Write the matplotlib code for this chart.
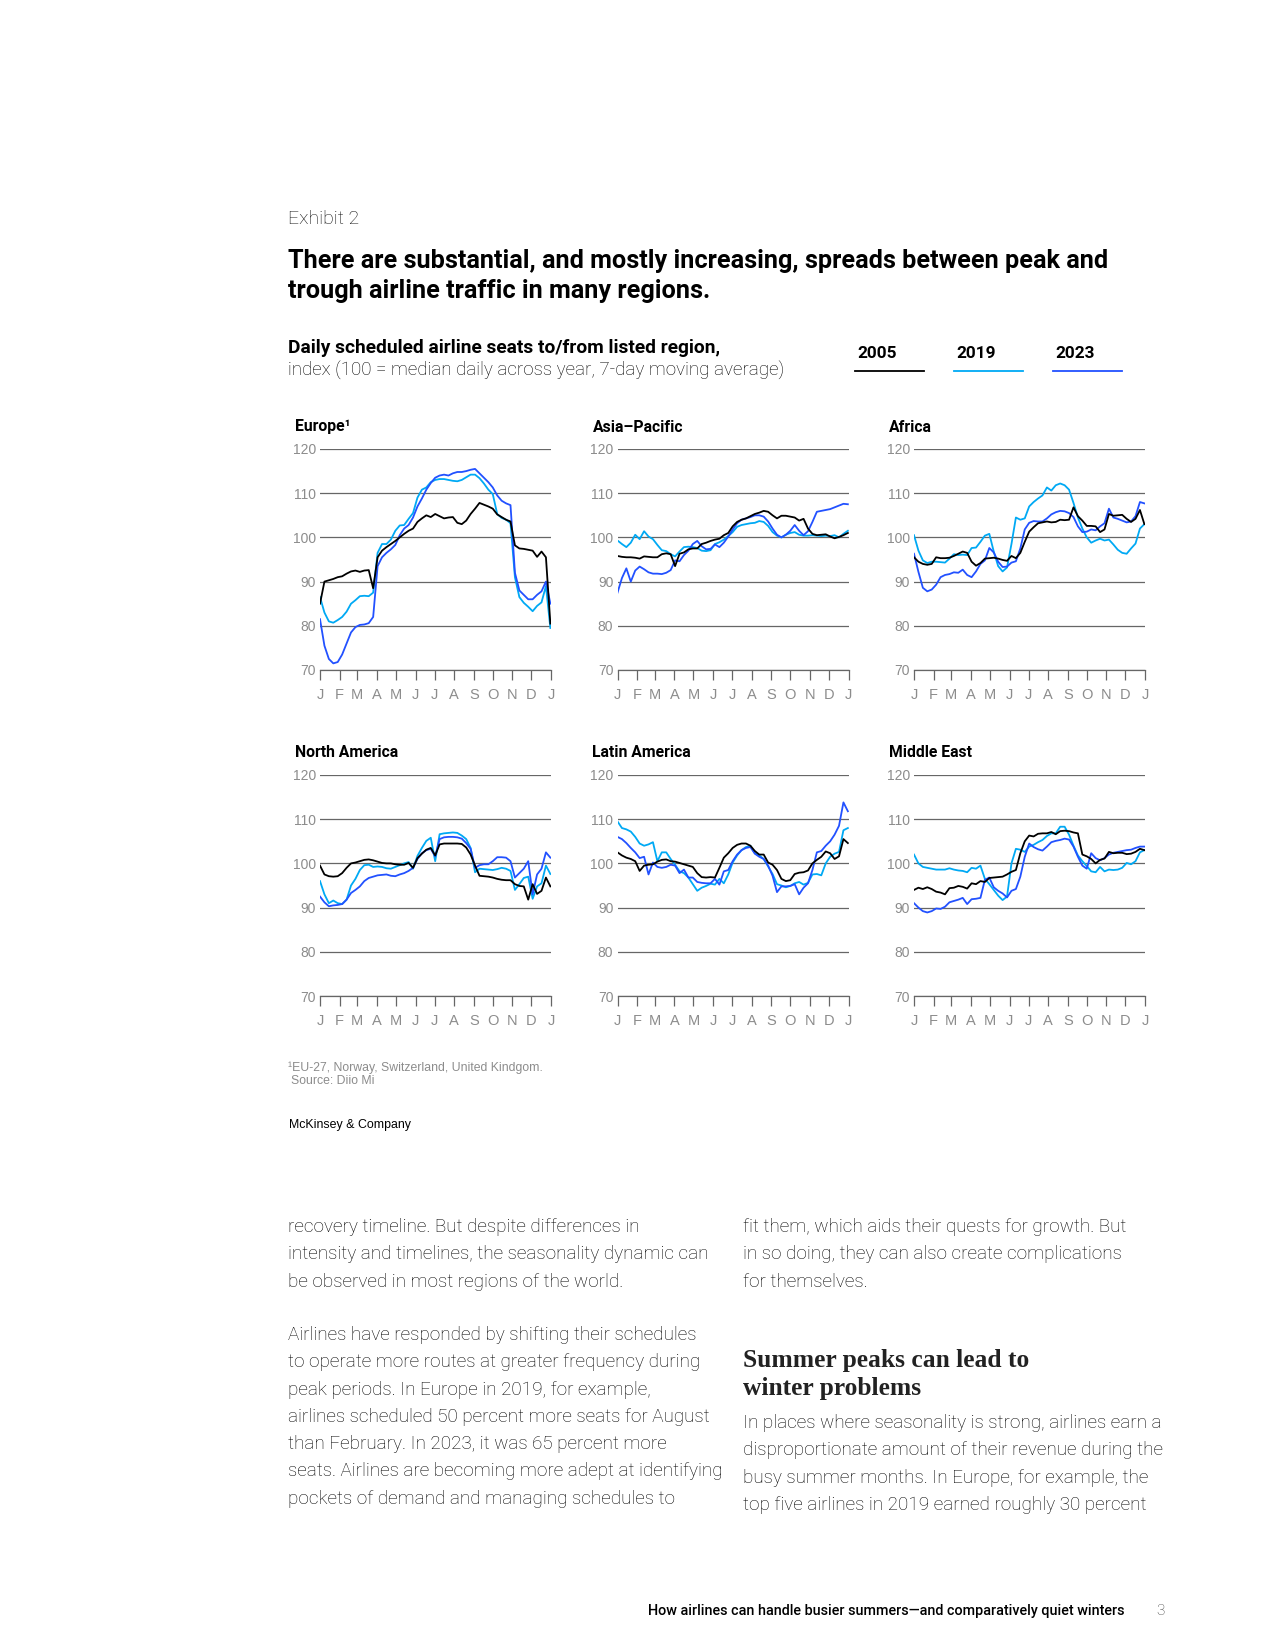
import numpy as np
import matplotlib
matplotlib.use("Agg")
import matplotlib.pyplot as plt
from matplotlib.lines import Line2D

days = np.arange(0, 365, 7)
month_starts = [0, 31, 59, 90, 120, 151, 181, 212, 243, 273, 304, 334, 365]
month_labels = ["J", "F", "M", "A", "M", "J", "J", "A", "S", "O", "N", "D", "J"]
y_ticks = [70, 80, 90, 100, 110, 120]
years = ["2005", "2019", "2023"]
year_colors = ["#000000", "#00a9f4", "#2251ff"]

europe_2005 = [85, 90, 90.3, 90.6, 91, 91.2, 91.8, 92.3, 92.5, 92.2, 92.5, 92.6, 88.5,
               95.5, 97, 97.8, 98.5, 99.2, 100, 100.8, 101.5, 102, 103.5, 104.3, 105, 104.6,
               105.3, 104.8, 104.3, 104.5, 104.6, 103.3, 103, 103.8, 105.3, 106.5, 107.8, 107.4,
               107, 106.5, 105.2, 104.6, 104, 103.6, 98.2, 97.5, 97.4, 97.2, 97, 95.6, 96.8, 95.5, 80.5]
europe_2019 = [86.5, 83, 81, 80.7, 81.3, 82, 83.2, 85, 85.8, 86.7, 86.8, 86.7, 87.5,
               96.5, 98.5, 98.5, 99.5, 101.5, 102.7, 102.8, 104.2, 105.5, 109, 110.8, 111.3, 112.5,
               113, 113.2, 113.2, 113, 112.8, 112.7, 113, 113.6, 114.2, 114.2, 113.4, 112.2,
               110.8, 109.8, 105.3, 104.4, 104, 103.2, 91, 86.5, 85.2, 84.3, 83.3, 84.5, 85.3, 89, 79.5]
europe_2023 = [81.5, 75.5, 72.5, 71.5, 71.8, 73.5, 76, 78.5, 79.7, 80.2, 80.3, 80.6, 82,
               93.5, 95.5, 96.5, 97.3, 98.3, 100.5, 102, 102.8, 104.5, 107, 108.8, 110.8, 112.3,
               113.5, 114, 114.2, 114, 114.5, 114.8, 114.8, 115, 115.3, 115.5, 114.5, 113.5,
               112.5, 111.3, 109.5, 108.3, 107.7, 107.3, 92, 88, 87, 86, 86, 87, 87.8, 90, 85]

asia_2005 = [95.8, 95.6, 95.5, 95.5, 95.4, 95.2, 95.7, 95.6, 95.5, 95.5, 96.2, 96.4, 96.2,
             93.5, 96.3, 96.6, 97.3, 97.5, 97.5, 98.5, 98.8, 99.2, 99.5, 99.7, 100.5, 101,
             102.5, 103.5, 104, 104.3, 104.8, 105.3, 105.6, 106, 105.8, 105, 104.3, 104.9,
             104.9, 104.7, 104.5, 103.8, 104.2, 102, 100.8, 100.5, 100.6, 100.7, 100.2, 99.8, 100.1, 100.5, 101]
asia_2019 = [99.3, 98.5, 97.8, 98.8, 100.6, 99.6, 101.4, 100.2, 99.6, 98.3, 97.1, 96.9, 96.2,
             95.7, 96.8, 97.8, 97.9, 97.8, 97.6, 97, 96.9, 97.1, 98.5, 98.9, 99.5, 100.3,
             101.2, 102.4, 102.8, 103, 103.2, 103.3, 103.7, 103.5, 102.6, 101.2, 100.4, 100,
             100.6, 101, 101.2, 100.6, 100.4, 100.4, 100.5, 100.4, 100.3, 100.4, 100.3, 100.5, 100, 100.8, 101.5]
asia_2023 = [87.5, 90.8, 93, 90, 92.5, 93.4, 92.8, 92.1, 91.8, 91.8, 91.7, 92, 92.6,
             94.8, 94.6, 96, 97, 98.5, 99.2, 98, 97.3, 97.4, 98.4, 97.8, 98.8, 100.2,
             101.8, 103.2, 104, 104.3, 104.6, 105, 105, 104.7, 103.6, 102, 100.6, 100,
             100.6, 101.5, 102.8, 101.5, 100.5, 101.4, 103.5, 105.8, 106, 106.2, 106.4, 106.8, 107.2, 107.6, 107.5]

africa_2005 = [95.5, 94.5, 94, 93.8, 94, 95.5, 95.3, 95.3, 95.4, 95.8, 96.3, 96.8, 96.5,
               94.5, 93.6, 94.2, 95.2, 95.3, 95.4, 95.2, 94.9, 94.7, 95.8, 95.3, 96.5, 99,
               101.3, 102.3, 103.2, 103.4, 103.6, 103.4, 103.5, 104, 103.9, 104, 106.8, 104.8,
               103.8, 102.6, 102.6, 102.5, 101.2, 101.8, 105.3, 104.9, 105, 105.1, 104.2, 103.5, 104.2, 106.2, 103]
africa_2019 = [100.5, 97, 94.8, 94.2, 94.5, 94.5, 94.4, 94.3, 95.2, 96.2, 96, 96.1, 96,
               97.6, 97.7, 99, 100.4, 100.8, 96.8, 93.5, 92.3, 93.2, 98.5, 104.5, 104, 104.3,
               107, 108, 108.8, 109.5, 111.3, 110.6, 111.8, 112.2, 111.8, 110.8, 107.8, 104.5,
               102, 100, 98.8, 99.3, 99.7, 99.3, 99.5, 98.4, 97.2, 96.5, 96.3, 97.5, 98.6, 102, 103]
africa_2023 = [96.3, 92.2, 88.6, 87.8, 88.2, 89.3, 91, 91.5, 91.7, 92.1, 92, 92.7, 91.5,
               91, 92.3, 94, 94.8, 97.6, 96.6, 94.5, 93.3, 93.4, 94.3, 94.6, 97.5, 101.8,
               103.3, 103.7, 103.6, 103.6, 104.3, 105.2, 105.7, 106, 105.9, 105.5, 104.6, 102.5,
               101.2, 101.3, 101.8, 101.6, 102.5, 103.2, 106.5, 104.5, 104.2, 103.8, 103.4, 103.6, 104.8, 108, 107.7]

namerica_2005 = [99.5, 97.5, 97.1, 97, 97.1, 97.8, 99, 100, 100.2, 100.5, 100.8, 100.9, 100.7,
                 100.4, 100.1, 100, 100, 99.8, 99.7, 99.7, 100.1, 99, 101.2, 102.2, 103.1, 103.5,
                 101.8, 104.3, 104.5, 104.5, 104.5, 104.5, 104.4, 103.6, 102, 99.5, 97.2, 97.1,
                 97, 96.8, 96.5, 96.3, 96.2, 96.2, 95.3, 94.9, 94.8, 91.8, 95.3, 93.1, 93.8, 96.8, 94.8]
namerica_2019 = [96, 93, 91, 91.6, 91, 90.8, 91.8, 95, 96.5, 98.5, 99.6, 99.7, 99.2,
                 99.3, 99.2, 98.9, 98.8, 99.2, 99.6, 100, 100.3, 98.8, 101.7, 103.5, 105.1, 105.8,
                 100.5, 106.6, 106.8, 106.9, 107, 106.9, 106.3, 105.5, 103.5, 98, 98.8, 98.7,
                 98.6, 98.5, 98.7, 99, 98.8, 98.3, 94, 95.3, 96.7, 97, 92, 94.8, 95.5, 99.5, 97.6]
namerica_2023 = [92.5, 91.2, 90.3, 90.5, 90.6, 90.8, 91.8, 93.3, 94, 94.8, 96, 96.7, 97,
                 97.3, 97.4, 97.5, 97.2, 97.1, 97.5, 97.8, 98.3, 99, 101, 102.3, 103, 103.3,
                 101.6, 105.5, 105.9, 106, 106, 105.9, 105.6, 104.6, 103.3, 99, 99.6, 99.8,
                 99.8, 100.5, 101.4, 101.4, 101.3, 100.5, 96.8, 97.8, 98.8, 100.5, 93, 97.5, 98.8, 102.5, 101.3]

latam_2005 = [102.5, 101.8, 101.3, 101, 100.5, 98.3, 99.5, 99.7, 99.8, 100.4, 100.8, 100.9, 100.5,
              100.4, 100.1, 99.8, 99.5, 99.2, 97.8, 96.9, 96.8, 96.9, 96.8, 99, 101.3, 102.3,
              103.5, 104.2, 104.5, 104.5, 104, 102.8, 102, 102, 100.2, 99.7, 98.5, 96.5,
              96, 96.2, 97.6, 97.9, 98, 98.4, 100, 100.8, 101.5, 102.7, 102.3, 101, 101.6, 105.5, 104.6]
latam_2019 = [109.5, 108, 107.7, 107.2, 106, 104.5, 104, 104.3, 104.8, 100.5, 102.5, 102.5, 101,
              99.7, 98.2, 97.8, 96.8, 95.3, 93.8, 94.5, 94.9, 95.4, 95.2, 96.5, 95.5, 97.5,
              100.2, 101.8, 103, 103.7, 104, 102.3, 101.8, 101, 99.3, 97.6, 95.3, 95,
              94.6, 94.9, 95.5, 95.8, 95.2, 95.6, 97.5, 97.6, 97.3, 100, 101.5, 102.2, 102.6, 107.5, 108]
latam_2023 = [106, 105.5, 104.6, 103.5, 102.5, 101.2, 101.5, 97.5, 100.2, 99.2, 99, 99.2, 99.7,
              99.5, 97.8, 98.6, 96.8, 96.8, 95.8, 95.6, 95.5, 95.5, 96.5, 95.2, 98.2, 98.5,
              100.5, 102, 103, 103.5, 103.7, 102.2, 101.5, 101, 99.5, 97.2, 93.5, 94.8,
              94.8, 94.9, 95.3, 93, 94.5, 95.5, 98.5, 102.5, 102.8, 104, 105, 106.5, 108.5, 113.8, 111.8]

mideast_2005 = [94, 94.5, 94.2, 94.6, 94.2, 93.6, 93.4, 93, 94.4, 94.5, 94.9, 94.7, 94.3,
                95.5, 95.3, 96, 95.8, 96.7, 96.8, 96.9, 97, 97.5, 98.1, 98.5, 102.3, 105,
                106.3, 106.1, 106.7, 106.8, 106.8, 107.1, 106.6, 107.3, 107.4, 107.3, 107, 106.8,
                102, 101.6, 101, 100, 100.8, 101.1, 102.6, 102.3, 102.4, 102.4, 102.1, 102.2, 102.6, 103.3, 103]
mideast_2019 = [102, 100, 99.2, 99, 98.8, 98.6, 98.6, 98.6, 98.9, 98.6, 98.4, 98.3, 98,
                99, 98.8, 99.5, 96.5, 95.3, 94, 92.7, 91.7, 92.5, 100, 103.3, 103.1, 102.6,
                103.8, 104.2, 104.8, 105.3, 106.2, 106.8, 106.8, 108.3, 108.3, 106.5, 104, 101.8,
                100.5, 99.4, 98.2, 98, 99.2, 98.2, 98.6, 98.5, 98.6, 99, 100.1, 99.8, 100.5, 102.5, 103]
mideast_2023 = [91, 90, 89.2, 88.9, 89.2, 89.8, 89.7, 90.2, 91.2, 91.5, 91.8, 92.2, 90.8,
                91.9, 92, 92.2, 96.3, 96.8, 94.6, 93.8, 93.2, 92.3, 93.8, 94.2, 97, 101.5,
                104.5, 103.7, 103.2, 102.9, 103.8, 104.8, 105.1, 105.3, 105.6, 105.4, 103.8, 101.5,
                99.5, 98.8, 102.3, 101.2, 100.7, 101.2, 102, 102.4, 102.6, 102.8, 103, 103.1, 103.5, 103.8, 103.8]

regions = ["Europe\u00b9", "Asia\u2013Pacific", "Africa", "North America", "Latin America", "Middle East"]
region_series = [
    (europe_2005, europe_2019, europe_2023),
    (asia_2005, asia_2019, asia_2023),
    (africa_2005, africa_2019, africa_2023),
    (namerica_2005, namerica_2019, namerica_2023),
    (latam_2005, latam_2019, latam_2023),
    (mideast_2005, mideast_2019, mideast_2023),
]

# ---------------- figure ----------------
W, H = 1275, 1650
fig = plt.figure(figsize=(W / 100, H / 100), dpi=100)
fig.patch.set_facecolor("white")

SANS = ["Liberation Sans", "DejaVu Sans"]
HEAD = ["Roboto", "DejaVu Sans"]
SERIF = ["Liberation Serif", "DejaVu Serif"]


def fx(x):
    return x / W


def fy(y):
    return 1 - y / H


# header
fig.text(fx(288), fy(219), "Exhibit 2", family=HEAD, weight="light", fontsize=14,
         color="#111111", va="center")
fig.text(fx(288), fy(261), "There are substantial, and mostly increasing, spreads between peak and",
         family=HEAD, weight="bold", fontsize=18.2, color="#000000", va="center")
fig.text(fx(288), fy(291), "trough airline traffic in many regions.",
         family=HEAD, weight="bold", fontsize=18.2, color="#000000", va="center")
fig.text(fx(288), fy(348), "Daily scheduled airline seats to/from listed region,",
         family=HEAD, weight="bold", fontsize=13.8, color="#000000", va="center")
fig.text(fx(288), fy(370), "index (100 = median daily across year, 7-day moving average)",
         family=HEAD, weight="light", fontsize=13.5, color="#000000", va="center")

# legend
legend_x = [855, 954, 1053]
for lx, yr, col in zip(legend_x, years, year_colors):
    fig.text(fx(lx + 2), fy(353), yr, family=HEAD, weight="bold", fontsize=12.4,
             color="#000000", va="center")
    fig.add_artist(Line2D([fx(lx), fx(lx + 69)], [fy(371), fy(371)], color=col,
                          lw=1.3, transform=fig.transFigure))

# panels
col_left = [320, 617.5, 914]
row_bottom = [670, 996]
panel_w, panel_h = 231, 221

for i, (name, series) in enumerate(zip(regions, region_series)):
    r, c = divmod(i, 3)
    ax = fig.add_axes([fx(col_left[c]), fy(row_bottom[r]), panel_w / W, panel_h / H])
    for vals, col in zip(series[1:], year_colors[1:]):
        ax.plot(days, vals, color=col, lw=1.3, solid_joinstyle="round")
    ax.plot(days, series[0], color=year_colors[0], lw=1.3, solid_joinstyle="round")

    ax.set_xlim(0, 365)
    ax.set_ylim(70, 120)
    ax.set_yticks(y_ticks)
    ax.set_yticklabels([str(v) for v in y_ticks], family=SANS, fontsize=10, color="#8c8c8c")
    ax.set_xticks(month_starts)
    ax.set_xticklabels(month_labels, family=SANS, fontsize=10.5, color="#8c8c8c")
    ax.tick_params(axis="y", length=0, pad=3)
    ax.tick_params(axis="x", length=7, width=0.9, color="#666666", pad=6, direction="out")
    ax.grid(axis="y", color="#666666", lw=0.9)
    ax.set_axisbelow(True)
    for s in ["top", "right", "left"]:
        ax.spines[s].set_visible(False)
    ax.spines["bottom"].set_color("#666666")
    ax.spines["bottom"].set_linewidth(0.9)
    ax.patch.set_alpha(0)

    fig.text(fx(col_left[c] - 25), fy(row_bottom[r] - panel_h - 22), name, family=HEAD,
             weight="bold", fontsize=11.3, color="#000000", va="center")

# notes
fig.text(fx(288), fy(1068), "\u00b9EU-27, Norway, Switzerland, United Kindgom.", family=SANS,
         fontsize=8.8, color="#8c8c8c", va="center")
fig.text(fx(291), fy(1081), "Source: Diio Mi", family=SANS, fontsize=8.8, color="#8c8c8c", va="center")
fig.text(fx(289), fy(1125), "McKinsey & Company", family=SANS, fontsize=8.9, color="#000000", va="center")

# body text
col1 = ["recovery timeline. But despite differences in",
        "intensity and timelines, the seasonality dynamic can",
        "be observed in most regions of the world."]
col1b = ["Airlines have responded by shifting their schedules",
         "to operate more routes at greater frequency during",
         "peak periods. In Europe in 2019, for example,",
         "airlines scheduled 50 percent more seats for August",
         "than February. In 2023, it was 65 percent more",
         "seats. Airlines are becoming more adept at identifying",
         "pockets of demand and managing schedules to"]
col2 = ["fit them, which aids their quests for growth. But",
        "in so doing, they can also create complications",
        "for themselves."]
col2b = ["In places where seasonality is strong, airlines earn a",
         "disproportionate amount of their revenue during the",
         "busy summer months. In Europe, for example, the",
         "top five airlines in 2019 earned roughly 30 percent"]
body_kw = dict(family=HEAD, weight="light", fontsize=13.6, color="#000000", va="center")
lh = 27.3
for k, line in enumerate(col1):
    fig.text(fx(288), fy(1227 + k * lh), line, **body_kw)
for k, line in enumerate(col1b):
    fig.text(fx(288), fy(1335 + k * lh), line, **body_kw)
for k, line in enumerate(col2):
    fig.text(fx(743), fy(1227 + k * lh), line, **body_kw)
for k, line in enumerate(col2b):
    fig.text(fx(743), fy(1423 + k * lh), line, **body_kw)

fig.text(fx(743), fy(1361), "Summer peaks can lead to", family=SERIF,
         weight="bold", fontsize=18.4, color="#222222", va="center")
fig.text(fx(743), fy(1389), "winter problems", family=SERIF,
         weight="bold", fontsize=18.4, color="#222222", va="center")

# footer
fig.text(fx(1124), fy(1611), "How airlines can handle busier summers\u2014and comparatively quiet winters",
         family=HEAD, weight="medium", fontsize=10.4, color="#000000", va="center", ha="right")
fig.text(fx(1165), fy(1611), "3", family=HEAD, weight="light", fontsize=11, color="#444444",
         va="center", ha="right")

fig.savefig("out.png", dpi=100, facecolor="white")
